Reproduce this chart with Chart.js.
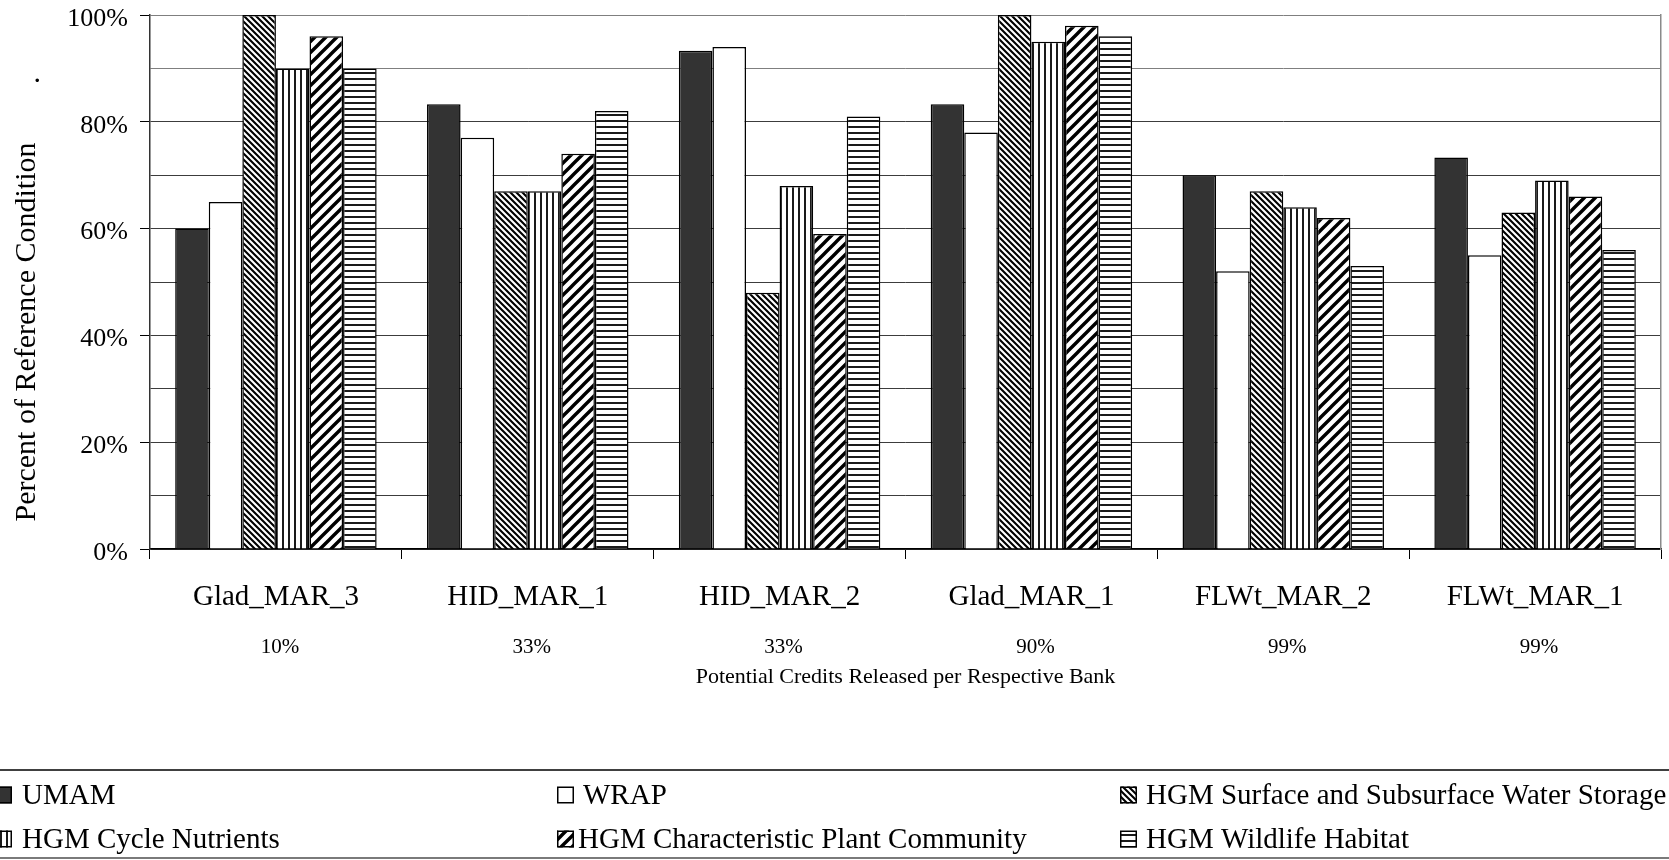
<!DOCTYPE html>
<html>
<head>
<meta charset="utf-8">
<title>Percent of Reference Condition by Bank</title>
<script src="https://cdn.jsdelivr.net/npm/chart.js@4.4.1/dist/chart.umd.min.js"></script>
<style>
  html, body { margin: 0; padding: 0; background: #ffffff; }
  #wrap { width: 1669px; height: 860px; }
</style>
</head>
<body>
<div id="wrap"><canvas id="chart" width="1669" height="860"></canvas></div>
<script>
// Banks (categories) and the share of potential credits released for each
const sites = ['Glad_MAR_3', 'HID_MAR_1', 'HID_MAR_2', 'Glad_MAR_1', 'FLWt_MAR_2', 'FLWt_MAR_1'];
const creditsReleased = ['10%', '33%', '33%', '90%', '99%', '99%'];

// Assessment scores, percent of reference condition
const umam      = [60, 83.3, 93.3, 83.3, 70, 73.3];
const wrap      = [65, 77, 94, 78, 52, 55];
const hgmWater  = [100, 67, 48, 100, 67, 63];
const hgmNutr   = [90, 67, 68, 95, 64, 69];
const hgmPlant  = [96, 74, 59, 98, 62, 66];
const hgmWild   = [90, 82, 81, 96, 53, 56];

const seriesNames = [
  'UMAM',
  'WRAP',
  'HGM Surface and Subsurface Water Storage',
  'HGM Cycle Nutrients',
  'HGM Characteristic Plant Community',
  'HGM Wildlife Habitat'
];

const yTicks = [0, 20, 40, 60, 80, 100];
const yTitle = 'Percent of Reference Condition';
const xTitle = 'Potential Credits Released per Respective Bank';

const SERIF = "'Liberation Serif', 'Times New Roman', serif";

// ---- hatch fills -------------------------------------------------------
function tile(size, paint) {
  const c = document.createElement('canvas');
  c.width = size; c.height = size;
  const g = c.getContext('2d');
  g.fillStyle = '#ffffff';
  g.fillRect(0, 0, size, size);
  paint(g, size);
  return document.createElement('canvas').getContext('2d').createPattern(c, 'repeat');
}
function backDiagonal(p, w) {           // "\" stripes
  return tile(p, (g, s) => {
    g.strokeStyle = '#000'; g.lineWidth = w;
    g.beginPath();
    g.moveTo(-1, -1); g.lineTo(s + 1, s + 1);
    g.moveTo(s - 2, -2); g.lineTo(s + 2, 2);
    g.moveTo(-2, s - 2); g.lineTo(2, s + 2);
    g.stroke();
  });
}
function forwardDiagonal(p, w) {        // "/" stripes
  return tile(p, (g, s) => {
    g.strokeStyle = '#000'; g.lineWidth = w;
    g.beginPath();
    g.moveTo(-1, s + 1); g.lineTo(s + 1, -1);
    g.moveTo(-2, 2); g.lineTo(2, -2);
    g.moveTo(s - 2, s + 2); g.lineTo(s + 2, s - 2);
    g.stroke();
  });
}
function verticalLines(p, w) {
  return tile(p, (g, s) => { g.fillStyle = '#1a1a1a'; g.fillRect(0, 0, w, s); });
}
function horizontalLines(p, w) {
  return tile(p, (g, s) => { g.fillStyle = '#1a1a1a'; g.fillRect(0, 0, s, w); });
}

const fills = [
  '#333333',
  '#ffffff',
  backDiagonal(6, 2.1),
  verticalLines(6, 2),
  forwardDiagonal(11, 3.4),
  horizontalLines(6, 2)
];
const values = [umam, wrap, hgmWater, hgmNutr, hgmPlant, hgmWild];

const datasets = values.map((v, i) => ({
  label: seriesNames[i],
  data: v,
  backgroundColor: fills[i],
  borderColor: '#000000',
  borderWidth: 1.5,
  categoryPercentage: 0.8,
  barPercentage: 1.0,
  xAxisID: 'x',
  yAxisID: 'y'
}));

// ---- page furniture: white ground, y-axis title, legend table ----------
const pageDecor = {
  id: 'pageDecor',
  beforeDraw(chart) {
    const ctx = chart.ctx;
    ctx.save();
    ctx.fillStyle = '#ffffff';
    ctx.fillRect(0, 0, chart.width, chart.height);
    ctx.restore();
  },
  afterDraw(chart) {
    const ctx = chart.ctx;
    ctx.save();
    ctx.fillStyle = '#000000';

    // vertical axis title
    ctx.save();
    ctx.translate(27, 332);
    ctx.rotate(-Math.PI / 2);
    ctx.font = '30px ' + SERIF;
    ctx.textAlign = 'center';
    ctx.textBaseline = 'middle';
    ctx.fillText(yTitle, 0, 0);
    ctx.restore();

    ctx.save();
    ctx.translate(39, 84);
    ctx.rotate(-Math.PI / 2);
    ctx.font = '30px ' + SERIF;
    ctx.textAlign = 'left';
    ctx.textBaseline = 'alphabetic';
    ctx.fillText('.', 0, 0);
    ctx.restore();

    // legend rules
    ctx.strokeStyle = '#000000';
    ctx.lineWidth = 1.5;
    ctx.beginPath(); ctx.moveTo(0, 770); ctx.lineTo(chart.width, 770); ctx.stroke();
    ctx.strokeStyle = '#7a7a7a';
    ctx.lineWidth = 2;
    ctx.beginPath(); ctx.moveTo(0, 858); ctx.lineTo(chart.width, 858); ctx.stroke();

    // legend entries, three per row
    const colBox = [-5, 557, 1120];
    const colText = [22, 578, 1146];
    const rowMid = [796, 840];
    const box = 17;
    ctx.font = '29px ' + SERIF;
    ctx.textAlign = 'left';
    ctx.textBaseline = 'middle';
    chart.data.datasets.forEach((ds, i) => {
      const col = i % 3, row = Math.floor(i / 3);
      const bx = colBox[col], by = rowMid[row] - box / 2 - 1;
      ctx.fillStyle = ds.backgroundColor;
      ctx.fillRect(bx, by, box, box);
      ctx.strokeStyle = '#000000';
      ctx.lineWidth = 1.5;
      ctx.strokeRect(bx + 0.75, by + 0.75, box - 1.5, box - 1.5);
      ctx.fillStyle = '#000000';
      ctx.fillText(ds.label, colText[col] + (i === 1 ? 5 : 0), rowMid[row]);
    });
    ctx.restore();
  }
};

Chart.defaults.font.family = SERIF;
Chart.defaults.color = '#000000';

new Chart(document.getElementById('chart'), {
  type: 'bar',
  data: { labels: sites, datasets },
  plugins: [pageDecor],
  options: {
    responsive: false,
    devicePixelRatio: 1,
    animation: false,
    layout: { padding: { top: 15, right: 8, bottom: 170, left: 0 } },
    plugins: {
      legend: { display: false },
      tooltip: { enabled: false },
      title: { display: false }
    },
    scales: {
      x: {
        type: 'category',
        position: 'bottom',
        weight: 0,
        offset: true,
        grid: {
          offset: true,
          drawOnChartArea: false,
          drawTicks: true,
          tickLength: 10,
          tickColor: '#000000',
          lineWidth: 1
        },
        border: { display: true, color: '#000000', width: 1.5 },
        ticks: {
          font: { size: 29, family: SERIF },
          color: '#000000',
          padding: 21,
          maxRotation: 0,
          autoSkip: false
        },
        afterFit(scale) { scale.height = 70; }
      },
      x2: {
        type: 'category',
        position: 'bottom',
        weight: 1,
        labels: creditsReleased,
        offset: true,
        grid: { display: false, drawTicks: false, drawOnChartArea: false },
        border: { display: false },
        ticks: {
          font: { size: 21, family: SERIF },
          color: '#000000',
          padding: 16,
          labelOffset: 4,
          maxRotation: 0,
          autoSkip: false
        },
        title: {
          display: true,
          text: xTitle,
          font: { size: 22, family: SERIF },
          color: '#000000',
          padding: { top: 0, bottom: 0 }
        },
        afterFit(scale) { scale.height = 71; }
      },
      y: {
        type: 'linear',
        position: 'left',
        min: 0,
        max: 100,
        grid: {
          color: (c) => (c.tick && c.tick.value >= 90 ? '#7f7f7f' : '#3c3c3c'),
          lineWidth: 1,
          drawTicks: true,
          tickLength: 10,
          tickColor: (c) => (c.tick && c.tick.value % 20 === 0 ? '#000000' : 'rgba(0,0,0,0)')
        },
        border: { display: true, color: '#333333', width: 1.5 },
        ticks: {
          stepSize: 10,
          padding: 12,
          labelOffset: 4,
          font: { size: 26, family: SERIF, lineHeight: 0.05 },
          color: '#000000',
          callback: (v) => (yTicks.includes(v) ? v + '%' : '')
        },
        afterFit(scale) { scale.width = 150; }
      },
      yEdge: {
        type: 'linear',
        position: 'right',
        display: true,
        grid: { display: false, drawTicks: false, drawOnChartArea: false },
        border: { display: true, color: '#8a8a8a', width: 1.5 },
        ticks: { display: false, padding: 0 },
        afterFit(scale) { scale.width = 0; }
      }
    }
  }
});
</script>
</body>
</html>
